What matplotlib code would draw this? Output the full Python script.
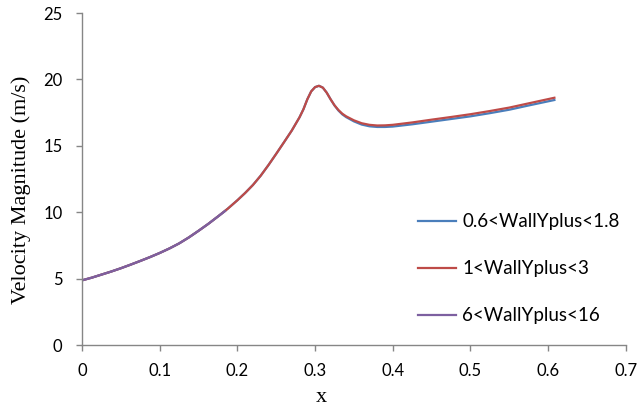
import matplotlib
matplotlib.use("Agg")
import matplotlib.pyplot as plt

# velocity magnitude along x for three near-wall mesh resolutions
x_full = [0.0, 0.0125, 0.025, 0.0375, 0.05, 0.0625, 0.075, 0.0875, 0.1,
          0.1125, 0.125, 0.1375, 0.15, 0.1625, 0.175, 0.1875, 0.2, 0.21,
          0.22, 0.23, 0.24, 0.25, 0.26, 0.27, 0.275, 0.28, 0.285, 0.29,
          0.295, 0.3, 0.305, 0.31, 0.315, 0.32, 0.325, 0.33, 0.335, 0.34,
          0.35, 0.36, 0.37, 0.38, 0.39, 0.40, 0.425, 0.45, 0.475, 0.5,
          0.525, 0.55, 0.575, 0.608]
v_fine = [4.87, 5.07, 5.3, 5.53, 5.78, 6.05, 6.33, 6.62, 6.93,
          7.27, 7.65, 8.1, 8.6, 9.12, 9.68, 10.26, 10.9, 11.45,
          12.05, 12.75, 13.55, 14.4, 15.27, 16.15, 16.65, 17.15, 17.75, 18.5,
          19.1, 19.42, 19.52, 19.38, 19.0, 18.5, 18.04, 17.66, 17.37, 17.16,
          16.84, 16.6, 16.47, 16.42, 16.42, 16.45, 16.62, 16.82, 17.02, 17.22,
          17.46, 17.72, 18.04, 18.45]
v_mid = [4.87, 5.07, 5.3, 5.53, 5.78, 6.05, 6.33, 6.62, 6.93,
         7.27, 7.65, 8.1, 8.6, 9.12, 9.68, 10.26, 10.9, 11.45,
         12.05, 12.75, 13.55, 14.4, 15.27, 16.15, 16.65, 17.15, 17.75, 18.5,
         19.1, 19.42, 19.52, 19.38, 19.0, 18.5, 18.05, 17.7, 17.42, 17.22,
         16.92, 16.7, 16.58, 16.53, 16.54, 16.58, 16.76, 16.97, 17.17, 17.38,
         17.62, 17.88, 18.2, 18.62]
x_coarse = [0.0, 0.0125, 0.025, 0.0375, 0.05, 0.0625, 0.075, 0.0875, 0.1,
            0.1125, 0.125, 0.1375, 0.15, 0.1625, 0.175, 0.184]
v_coarse = [4.87, 5.07, 5.3, 5.53, 5.78, 6.05, 6.33, 6.62, 6.93,
            7.27, 7.65, 8.1, 8.6, 9.12, 9.68, 10.08]

labels = ["0.6<WallYplus<1.8", "1<WallYplus<3", "6<WallYplus<16"]
colors = ["#4A7EBB", "#BE4B48", "#7D60A0"]

fig = plt.figure(figsize=(6.38, 4.07), dpi=100)
ax = fig.add_axes([0.1285, 0.1523, 0.8525, 0.8157])

ax.plot(x_full, v_fine, color=colors[0], lw=1.6, label=labels[0])
ax.plot(x_full, v_mid, color=colors[1], lw=1.6, label=labels[1])
ax.plot(x_coarse, v_coarse, color=colors[2], lw=1.6, label=labels[2])

ax.set_xlim(0, 0.7)
ax.set_ylim(0, 25)
ax.set_xticks([0, 0.1, 0.2, 0.3, 0.4, 0.5, 0.6, 0.7])
ax.set_xticklabels(["0", "0.1", "0.2", "0.3", "0.4", "0.5", "0.6", "0.7"])
ax.set_yticks([0, 5, 10, 15, 20, 25])

for side in ["top", "right"]:
    ax.spines[side].set_visible(False)
for side in ["left", "bottom"]:
    ax.spines[side].set_color("#868686")
    ax.spines[side].set_linewidth(1.0)
ax.tick_params(direction="out", length=4, width=1.0, color="#868686",
               labelsize=12)
ax.tick_params(axis="x", pad=9)
ax.tick_params(axis="y", pad=10)
for t in ax.get_xticklabels() + ax.get_yticklabels():
    t.set_fontfamily("Lato")

ax.set_xlabel("x", fontfamily="Liberation Serif", fontsize=16)
ax.set_ylabel("Velocity Magnitude (m/s)", fontfamily="Liberation Serif",
              fontsize=16)
ax.xaxis.set_label_coords(0.441, -0.13)
ax.yaxis.set_label_coords(-0.094, 0.467)

leg = ax.legend(loc="center left", bbox_to_anchor=(0.587, 0.229), frameon=False,
                prop={"family": "Lato", "size": 13.5}, labelspacing=1.6,
                handlelength=2.0, handletextpad=0.35)

fig.savefig("out.png", dpi=100)
